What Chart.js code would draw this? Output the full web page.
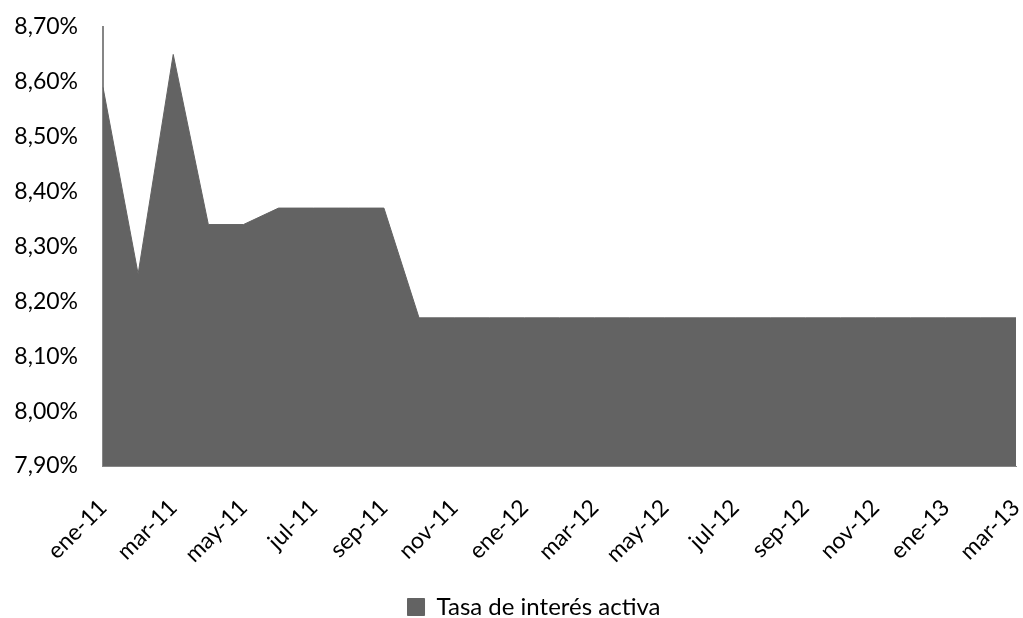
<!DOCTYPE html>
<html>
<head>
<meta charset="utf-8">
<script src="https://cdn.jsdelivr.net/npm/chart.js@4.4.1/dist/chart.umd.min.js"></script>
<style>
  html, body { margin: 0; padding: 0; background: #ffffff; }
  #wrap { width: 1023px; height: 618px; position: relative; }
</style>
</head>
<body>
<div id="wrap"><canvas id="c" width="1023" height="618"></canvas></div>
<script>
// Monthly categories, January 2011 through March 2013
const months = [
  'ene-11','feb-11','mar-11','abr-11','may-11','jun-11','jul-11','ago-11','sep-11','oct-11','nov-11','dic-11',
  'ene-12','feb-12','mar-12','abr-12','may-12','jun-12','jul-12','ago-12','sep-12','oct-12','nov-12','dic-12',
  'ene-13','feb-13','mar-13'
];

// Lending rate (%), one value per month
const tasaActiva = [
  8.59, 8.25, 8.65, 8.34, 8.34, 8.37, 8.37, 8.37, 8.37, 8.17, 8.17, 8.17,
  8.17, 8.17, 8.17, 8.17, 8.17, 8.17, 8.17, 8.17, 8.17, 8.17, 8.17, 8.17,
  8.17, 8.17, 8.17
];

const seriesName = 'Tasa de interés activa';
const yMin = 7.9;
const yMax = 8.7;
const yStep = 0.1;

const fontFamily = 'Lato, "Open Sans", sans-serif';
const fill = '#636363';
const axisColor = '#868686';

// Nudges the legend block a little right and down from its default slot
const legendNudge = {
  id: 'legendNudge',
  afterLayout(chart) {
    const lg = chart.legend;
    if (!lg) return;
    lg.left += 52;
    lg.top += 11;
    lg.bottom += 11;
  }
};

new Chart(document.getElementById('c'), {
  type: 'line',
  data: {
    labels: months,
    datasets: [{
      label: seriesName,
      data: tasaActiva,
      fill: 'start',
      backgroundColor: fill,
      borderColor: fill,
      borderWidth: 1,
      pointRadius: 0,
      tension: 0
    }]
  },
  plugins: [legendNudge],
  options: {
    responsive: false,
    animation: false,
    layout: { padding: { left: 0, right: 7, top: 27, bottom: 0 } },
    scales: {
      x: {
        offset: false,
        grid: { display: false, drawTicks: false },
        border: { display: true, color: axisColor, width: 1 },
        ticks: {
          autoSkip: false,
          maxRotation: 45,
          minRotation: 45,
          padding: 28,
          color: '#000000',
          font: { family: fontFamily, size: 23 },
          callback: function (v, i) { return i % 2 === 0 ? months[i] : ''; }
        },
        afterFit: function (s) {
          s.height = 118;
          s.paddingLeft = 0;
          s.paddingRight = 0;
        }
      },
      y: {
        min: yMin,
        max: yMax,
        grid: { display: false, drawTicks: false },
        border: { display: true, color: axisColor, width: 2 },
        ticks: {
          stepSize: yStep,
          padding: 25,
          color: '#000000',
          font: { family: fontFamily, size: 23 },
          callback: function (v) { return v.toFixed(2).replace('.', ',') + '%'; }
        },
        afterFit: function (s) {
          s.width = 103;
          s.paddingTop = 0;
          s.paddingBottom = 0;
        }
      }
    },
    plugins: {
      legend: {
        position: 'bottom',
        labels: {
          boxWidth: 17,
          boxHeight: 17,
          padding: 0,
          color: '#000000',
          font: { family: fontFamily, size: 24, lineHeight: 1.0 }
        }
      },
      tooltip: { enabled: false }
    }
  }
});
</script>
</body>
</html>
